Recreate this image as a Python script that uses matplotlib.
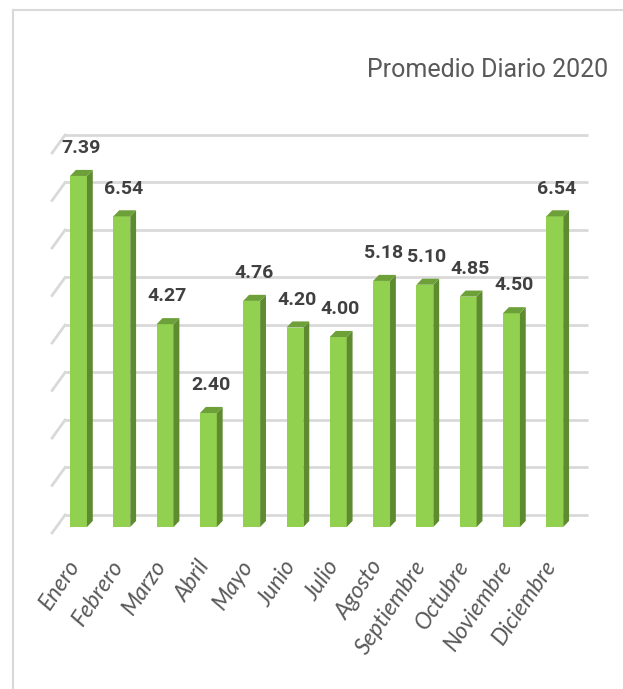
import matplotlib
matplotlib.use("Agg")
import matplotlib.pyplot as plt
from matplotlib.patches import Polygon
from matplotlib.lines import Line2D

# data
meses = ["Enero", "Febrero", "Marzo", "Abril", "Mayo", "Junio", "Julio",
         "Agosto", "Septiembre", "Octubre", "Noviembre", "Diciembre"]
promedio = [7.39, 6.54, 4.27, 2.40, 4.76, 4.20, 4.00, 5.18, 5.10, 4.85, 4.50, 6.54]
ticks = list(range(0, 9))

FONT = ["Roboto", "DejaVu Sans"]
plt.rcParams["font.family"] = FONT

fig = plt.figure(figsize=(6.23, 6.89), dpi=100)
ax = fig.add_axes([0.0565, 0.1524, 0.9000, 0.6756])
ax.set_xlim(-1.0, 11.95)
ax.set_ylim(-1.2, 8.6)
ax.set_axis_off()

# pseudo-3d depth offsets (data units)
back = 0.253      # back wall shift up
left_back = -0.31
left_front = -0.61
front = -0.126
dx, dy = 0.135, 0.128
hw = 0.195

grid_c = "#D9D9D9"
for g in ticks:
    ax.plot([left_back, 11.77], [g + back, g + back], color=grid_c, lw=2, zorder=1,
            solid_capstyle="butt")
    ax.plot([left_front, left_back], [g + front, g + back], color=grid_c, lw=2, zorder=1)

x = list(range(len(meses)))
ax.bar(x, promedio, width=2 * hw, color="#92D050", zorder=3)
for i, v in zip(x, promedio):
    side = [(i + hw, 0), (i + hw + dx, dy), (i + hw + dx, v + dy), (i + hw, v)]
    top = [(i - hw, v), (i + hw, v), (i + hw + dx, v + dy), (i - hw + dx, v + dy)]
    ax.add_patch(Polygon(side, closed=True, color="#5E8B2F", zorder=3, lw=0))
    ax.add_patch(Polygon(top, closed=True, color="#6EA03A", zorder=3, lw=0))
    ax.text(i + 0.05, v + 0.585, f"{v:.2f}", ha="center", va="center",
            fontsize=14, fontweight="bold", color="#404040", zorder=4)

for i, m in zip(x, meses):
    ax.text(i - 0.08, -0.74, m, rotation=56, rotation_mode="anchor",
            ha="right", va="center", fontsize=16.5, fontstyle="italic",
            family=["Lato", "DejaVu Sans"], color="#595959", clip_on=False)

fig.text(608 / 623, 1 - 77 / 689, "Promedio Diario 2020", ha="right", va="baseline",
         fontsize=18, color="#595959")

# chart border (left and top edges visible)
fig.add_artist(Line2D([13 / 623, 13 / 623], [0, 1 - 9.5 / 689], transform=fig.transFigure,
                      color=grid_c, lw=1.5))
fig.add_artist(Line2D([13 / 623, 1], [1 - 9.5 / 689, 1 - 9.5 / 689], transform=fig.transFigure,
                      color=grid_c, lw=1.5))

fig.savefig("out.png", dpi=100)
